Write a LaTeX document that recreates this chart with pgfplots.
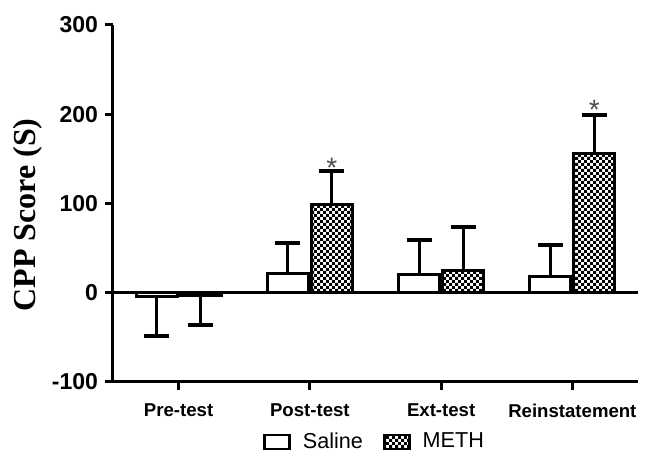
\documentclass[border=0pt]{standalone}
\usepackage{fontspec}
\setmainfont{Liberation Sans}
\newfontfamily\timesfont{Liberation Serif}
\usepackage{pgfplots}
\pgfplotsset{compat=1.18}
\usetikzlibrary{patterns.meta}

\tikzdeclarepattern{
  name=finecheck, type=uncolored,
  bottom left={(0pt,0pt)}, top right={(3pt,3pt)}, tile size={(3pt,3pt)},
  code={\fill (0pt,0pt) rectangle (1.5pt,1.5pt); \fill (1.5pt,1.5pt) rectangle (3pt,3pt);}
}

\pgfplotsset{
  boxlegend/.style={legend image code/.code={\draw[##1, line width=1.4pt] (0pt,-3.5pt) rectangle (12.5pt,3.5pt);}},
  ebars/.style={error bars/.cd, y dir=#1, y explicit, error mark=|,
    error bar style={line width=1.5pt, black, solid},
    error mark options={line width=2pt, mark size=6.25pt, black, solid}},
}

\begin{document}
\begin{tikzpicture}
\begin{axis}[name=ax, scale only axis, width=262.5pt, height=178.5pt,
  xmin=-0.5, xmax=3.5, ymin=-100, ymax=300,
  ybar,
  axis lines*=left, axis line style={line width=1.5pt},
  xtick={0,1,2,3}, xticklabels={Pre-test,Post-test,Ext-test,Reinstatement},
  ytick={-100,0,100,200,300},
  tick align=outside, major tick length=4pt,
  every tick/.style={black, line width=1.5pt},
  x tick label style={font=\fontsize{9.3}{11}\selectfont\bfseries, yshift=-3.5pt},
  y tick label style={font=\fontsize{11.5}{13}\selectfont\bfseries},
  /pgf/number format/assume math mode=true,
  ylabel={CPP Score (S)},
  every axis y label/.style={at={(axis description cs:0,0.468)}, xshift=-42.5pt, rotate=90, anchor=center},
  ylabel style={font=\fontsize{16}{18}\selectfont\timesfont\bfseries},
  extra y ticks={0}, extra y tick labels={},
  extra y tick style={grid=major, major grid style={line width=1.5pt, black}},
  legend style={at={(axis description cs:0.5,-0.168)}, anchor=center, draw=none, fill=none,
    legend columns=2, font=\fontsize{10.8}{12}\selectfont, inner sep=1pt,
    /tikz/every odd column/.append style={column sep=4pt},
    /tikz/every even column/.append style={column sep=8pt}},
]
% Saline
\addplot[bar width=20.5pt, bar shift=-11pt, draw=black, fill=white, line width=1.5pt, boxlegend, ebars=plus]
  coordinates {(1,22) +- (0,34) (2,20) +- (0,39) (3,18) +- (0,36)};
\addlegendentry{Saline}
% METH
\addplot[bar width=20.5pt, bar shift=11pt, draw=black, pattern={finecheck}, pattern color=black, line width=1.5pt, boxlegend, ebars=plus]
  coordinates {(1,99) +- (0,37) (2,25) +- (0,49) (3,156) +- (0,43)};
\addlegendentry{METH}
% Pre-test (negative, error bars downward)
\addplot[forget plot, bar width=20.5pt, bar shift=-11pt, draw=black, fill=white, line width=1.5pt, ebars=minus]
  coordinates {(0,-4) +- (0,44)};
\addplot[forget plot, bar width=20.5pt, bar shift=11pt, draw=black, pattern={finecheck}, pattern color=black, line width=1.5pt, ebars=minus]
  coordinates {(0,-3) +- (0,33)};
\node[font=\fontsize{14}{14}\selectfont, text=black!70, anchor=base, xshift=11pt, yshift=-8pt] at (axis cs:1,147) {*};
\node[font=\fontsize{14}{14}\selectfont, text=black!70, anchor=base, xshift=11pt, yshift=-8pt] at (axis cs:3,212) {*};
\end{axis}
\pgfresetboundingbox
\path ([xshift=-56.5pt,yshift=-36pt]ax.south west) rectangle ([xshift=3.5pt,yshift=12.5pt]ax.north east);
\end{tikzpicture}
\end{document}
